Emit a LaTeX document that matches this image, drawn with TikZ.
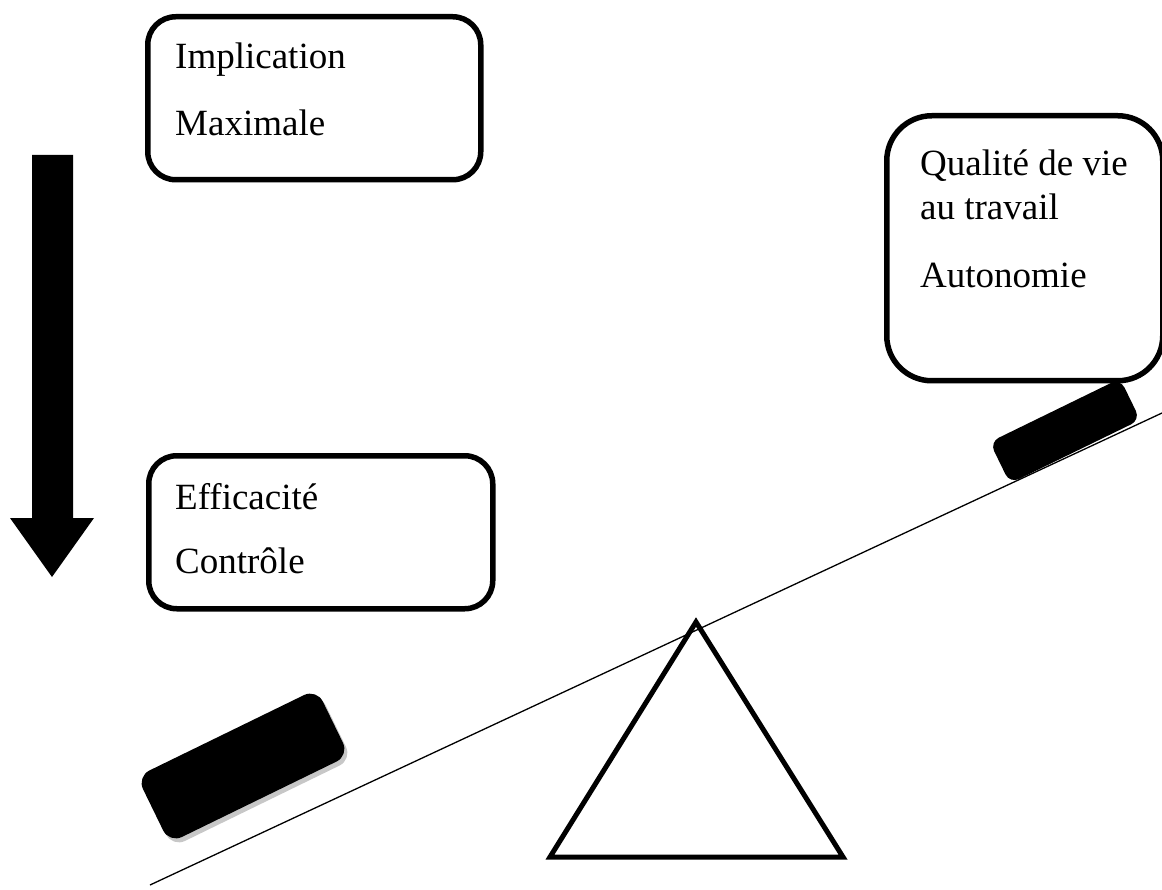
\documentclass[tikz,border=0pt]{standalone}
\usepackage{fontspec}
\setmainfont{Liberation Serif}
\tikzset{
  box/.style={draw=black, line width=5.5pt, rounded corners=28pt, fill=white, minimum width=#1},
  lbl/.style={anchor=base west, inner sep=0pt, font=\fontsize{37}{44}\selectfont},
  block/.style={fill=black, rounded corners=14pt, inner sep=0pt},
  shade/.style={fill=black!22, rounded corners=14pt, inner sep=0pt},
}
\begin{document}
\begin{tikzpicture}[x=1pt,y=-1pt]
\useasboundingbox (0,0) rectangle (1162,890);
% beam
\coordinate (b1) at (150,885);
\coordinate (b2) at (1162,413);
\draw[line width=1.3pt] (b1) -- (b2);
% fulcrum
\coordinate (t1) at (696,622);
\coordinate (t2) at (550,857);
\coordinate (t3) at (843,857);
\draw[line width=5pt, line join=miter] (t1) -- (t2) -- (t3) -- cycle;
% blocks
\node[shade, rotate=26, minimum width=200pt, minimum height=74pt] (ls) at (246,770) {};
\node[block, rotate=26, minimum width=200pt, minimum height=74pt] (lb) at (243,766) {};
\node[block, rotate=26, minimum width=145pt, minimum height=46pt, rounded corners=10pt] (rb) at (1065,431) {};
% boxes
\node[box=333pt, minimum height=163pt, anchor=north west] (b1box) at (145,14) {};
\node[lbl] (t11) at (175,69) {Implication};
\node[lbl] (t12) at (175,136) {Maximale};
\node[box=344pt, minimum height=153pt, anchor=north west] (b2box) at (146,453) {};
\node[lbl] (t21) at (175,509) {Efficacité};
\node[lbl] (t22) at (175,573) {Contrôle};
\node[box=276pt, minimum height=265pt, anchor=north west, rounded corners=45pt] (b3box) at (884,113) {};
\node[lbl] (t31) at (920,176) {Qualité de vie};
\node[lbl] (t32) at (920,220) {au travail};
\node[lbl] (t33) at (920,288) {Autonomie};
% arrow
\coordinate (a1) at (32,155);
\coordinate (a2) at (73,155);
\coordinate (a3) at (73,518);
\coordinate (a4) at (94,518);
\coordinate (a5) at (52,577);
\coordinate (a6) at (10,518);
\coordinate (a7) at (32,518);
\fill[black] (a1) -- (a2) -- (a3) -- (a4) -- (a5) -- (a6) -- (a7) -- cycle;
\end{tikzpicture}
\end{document}
